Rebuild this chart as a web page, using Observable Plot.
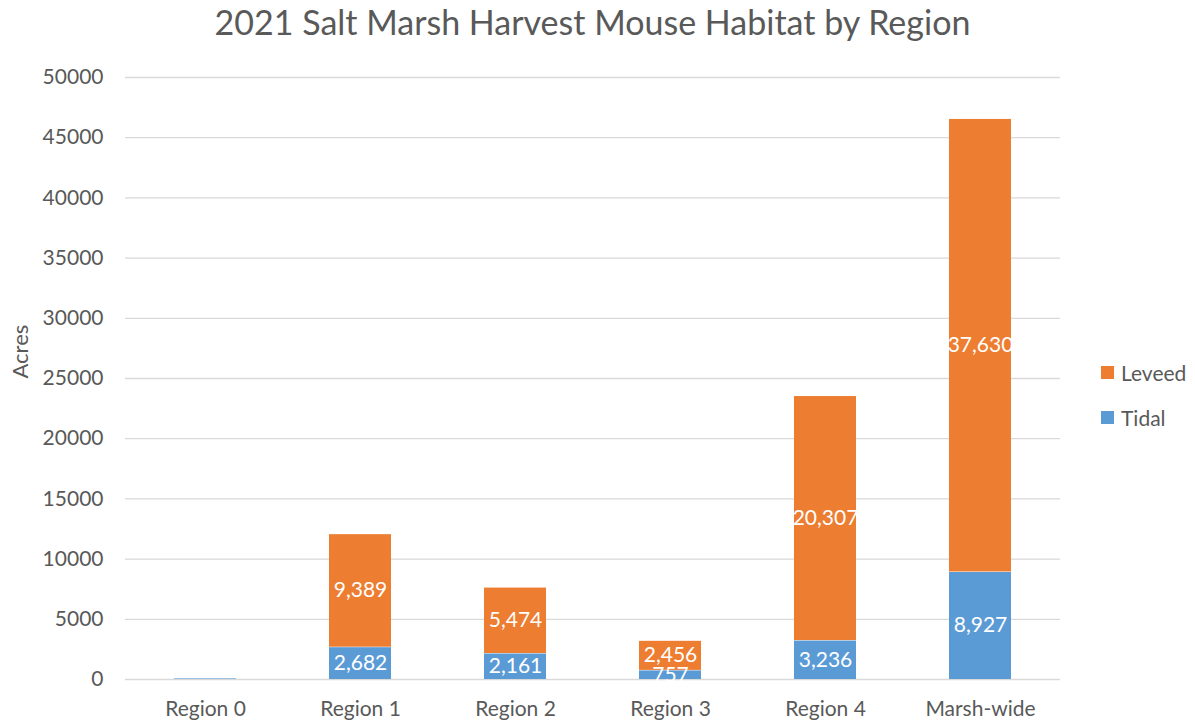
<!DOCTYPE html>
<html>
<head>
<meta charset="utf-8">
<script src="https://cdn.jsdelivr.net/npm/d3@7"></script>
<script src="https://cdn.jsdelivr.net/npm/@observablehq/plot@0.6"></script>
<style>
  html, body { margin: 0; padding: 0; background: #fff; }
  #wrap { position: relative; width: 1195px; height: 723px; font-family: Lato, "Open Sans", sans-serif; color: #595959; }
  #title { position: absolute; left: 0; width: 1185px; top: -1px; text-align: center; font-size: 34px; line-height: 46px; }
  #legend { position: absolute; left: 1101px; top: 358px; font-size: 21px; }
  .item { display: flex; align-items: center; height: 28px; margin-bottom: 17px; }
  .sw { width: 13px; height: 13px; margin-right: 7px; }
  #chart { position: absolute; left: 0; top: 0; }
</style>
</head>
<body>
<div id="wrap">
  <div id="chart"></div>
  <div id="title">2021 Salt Marsh Harvest Mouse Habitat by Region</div>
  <div id="legend"></div>
</div>
<script>
const regions = ["Region 0", "Region 1", "Region 2", "Region 3", "Region 4", "Marsh-wide"];
const tidal = [91, 2682, 2161, 757, 3236, 8927];
const leveed = [4, 9389, 5474, 2456, 20307, 37630];
const seriesNames = ["Tidal", "Leveed"];
const seriesColors = ["#5B9BD5", "#ED7D31"];
const yTicks = [0, 5000, 10000, 15000, 20000, 25000, 30000, 35000, 40000, 45000, 50000];

const rows = [];
regions.forEach((r, i) => {
  rows.push({region: r, series: "Tidal", value: tidal[i]});
  rows.push({region: r, series: "Leveed", value: leveed[i]});
});

const fmt = d3.format(",");
const plot = Plot.plot({
  width: 1195,
  height: 723,
  marginLeft: 125,
  marginRight: 135,
  marginTop: 77,
  marginBottom: 44,
  style: {fontFamily: "Lato, 'Open Sans', sans-serif", fontSize: "21px", color: "#595959"},
  x: {domain: regions, paddingInner: 0.6, paddingOuter: 0.3, label: null, tickSize: 0, tickPadding: 22},
  y: {domain: [0, 50000], ticks: yTicks, label: null, tickSize: 0, tickPadding: 22, tickFormat: d => String(d)},
  color: {domain: seriesNames, range: seriesColors},
  marks: [
    Plot.gridY(yTicks, {stroke: "#d9d9d9", strokeOpacity: 1, strokeWidth: 1.3}),
    Plot.barY(rows, Plot.stackY({x: "region", y: "value", fill: "series", order: seriesNames, insetTop: 0.5})),
    Plot.text(rows, Plot.filter(d => d.value > 100, Plot.stackY({x: "region", y: "value", z: "series", order: seriesNames, text: d => fmt(d.value), fill: "white", fontSize: 21}))),
    Plot.text(["Acres"], {frameAnchor: "left", dx: -105, rotate: -90, text: d => d, fontSize: 22, fill: "#595959"})
  ]
});
document.getElementById("chart").appendChild(plot);

const legend = document.getElementById("legend");
[["Leveed", seriesColors[1]], ["Tidal", seriesColors[0]]].forEach(([n, c]) => {
  const it = document.createElement("div");
  it.className = "item";
  it.innerHTML = `<div class="sw" style="background:${c}"></div><span>${n}</span>`;
  legend.appendChild(it);
});
</script>
</body>
</html>
